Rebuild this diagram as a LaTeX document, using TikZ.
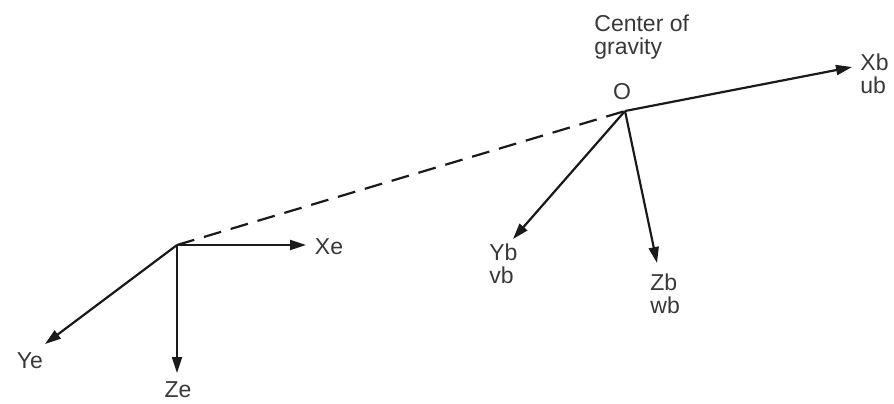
\documentclass[tikz,border=0pt]{standalone}
\usepackage{fontspec}
\setmainfont{Liberation Sans}
\usetikzlibrary{arrows.meta,positioning}
\definecolor{ink}{HTML}{1A1A1A}
\definecolor{txt}{HTML}{383838}
\tikzset{
  axis/.style={draw=ink,line width=1.1pt,-{Stealth[length=8pt,width=5pt,inset=0pt]}},
  lbl/.style={inner sep=0pt,align=left,text=txt,font=\fontsize{11.5}{11.5}\selectfont},
}
\begin{document}
\begin{tikzpicture}[x=0.5pt,y=-0.5pt]
    \useasboundingbox (0,0) rectangle (894,403);
    \coordinate (e) at (177,245);  \coordinate (o) at (625,111);
    \coordinate (xe) at (306,245); \coordinate (ye) at (45,344);  \coordinate (ze) at (177,373);
    \coordinate (xb) at (852,67);  \coordinate (yb) at (513,239); \coordinate (zb) at (657,263);
    \node[lbl] (xel) at (329,247) {Xe};  \node[lbl] (yel) at (30,361) {Ye};  \node[lbl] (zel) at (178,390) {Ze};
    \node[lbl] (ol) at (622,92) {O};
    \node[lbl,anchor=west] (cg) at (594,37) {Center of\\gravity};
    \node[lbl,anchor=west] (xbl) at (860,74) {Xb\\ub};
    \node[lbl,anchor=west] (ybl) at (489,264) {Yb\\vb};
    \node[lbl,anchor=west] (zbl) at (650,294) {Zb\\wb};
    \draw [draw=ink,line width=1.1pt,dash pattern=on 9pt off 5pt] (e) -- (o);
    \draw [axis] (e) -- (xe); \draw [axis] (e) -- (ye); \draw [axis] (e) -- (ze);
    \draw [axis] (o) -- (xb); \draw [axis] (o) -- (yb); \draw [axis] (o) -- (zb);
\end{tikzpicture}
\end{document}
